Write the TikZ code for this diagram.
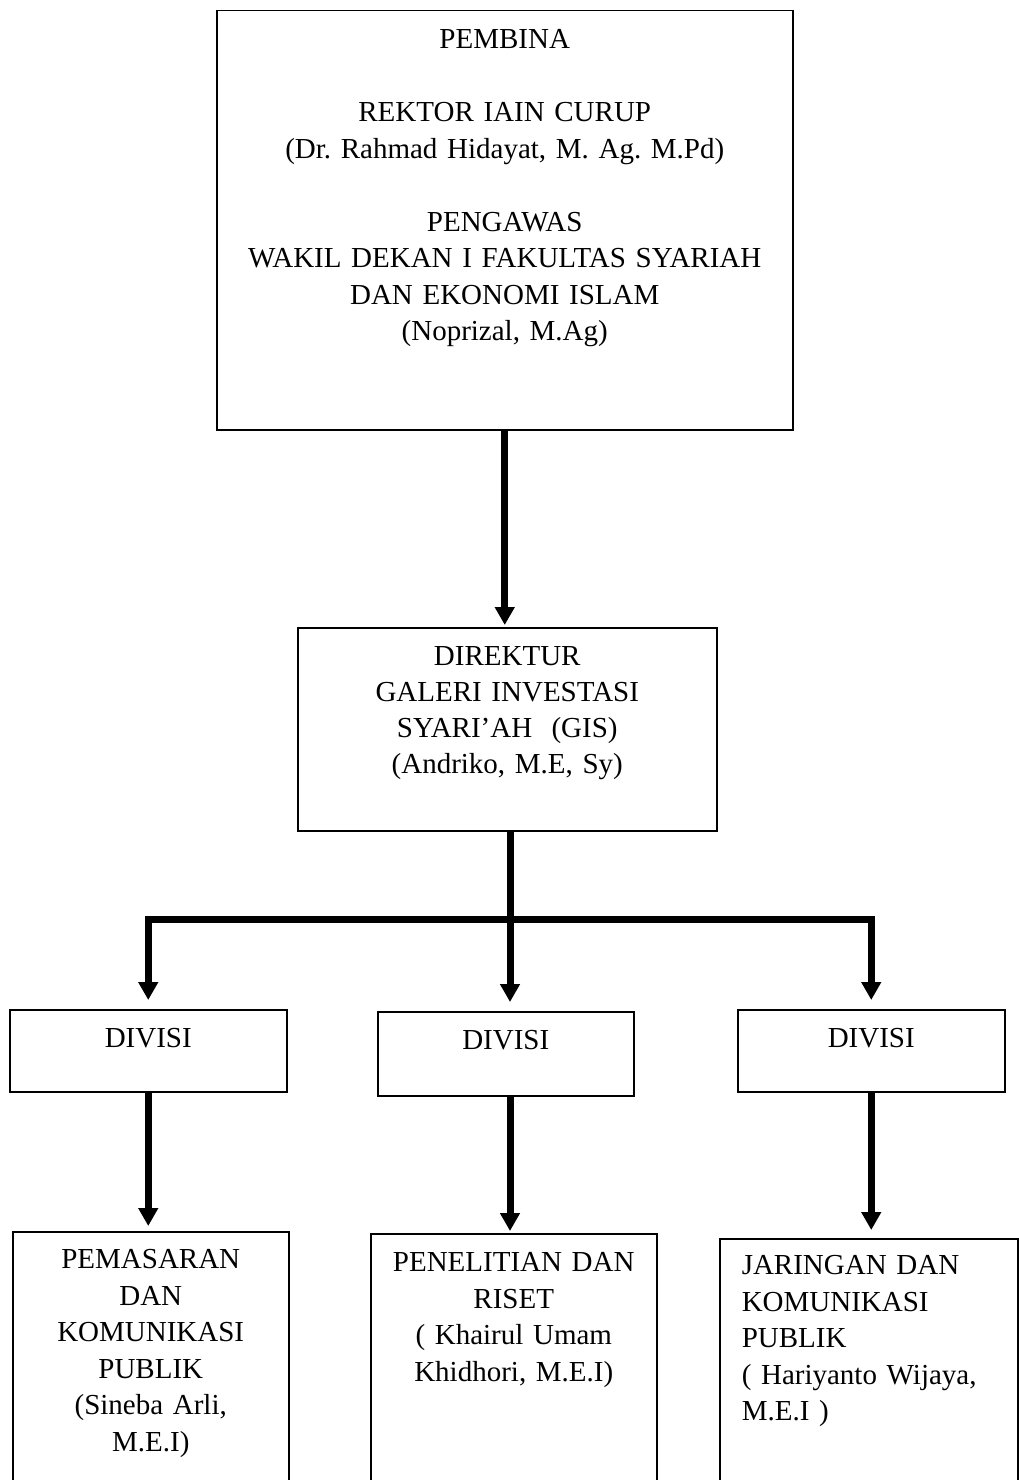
\documentclass[tikz,border=0pt]{standalone}
\usepackage{fontspec}
\setmainfont{Liberation Serif}
\usepackage{tikz}
\usetikzlibrary{arrows.meta}
\frenchspacing

\begin{document}
\begin{tikzpicture}[
  x=1pt, y=-1pt,
  box/.style={draw, line width=1.5pt, anchor=north west, inner xsep=0pt, inner ysep=0pt, align=center, font=\fontsize{29}{36.5}\selectfont},
  leftbox/.style={box, align=left, inner xsep=22pt},
  arrow/.style={-{Triangle[length=18pt,width=19pt]}, line width=7pt, shorten >=4pt}
]
\useasboundingbox (0,0) rectangle (1019,1480);
\clip (0,0) rectangle (1019,1480);

\node[box, text width=576pt, text height=38pt, text depth=381pt] (pembina) at (216,10)
  {PEMBINA\\[36.5pt]REKTOR IAIN CURUP\\(Dr. Rahmad Hidayat, M. Ag. M.Pd)\\[36.5pt]PENGAWAS\\WAKIL DEKAN I FAKULTAS SYARIAH\\DAN EKONOMI ISLAM\\(Noprizal, M.Ag)};

\node[box, text width=419pt, text height=38pt, text depth=165pt, font=\fontsize{29}{36}\selectfont] (direktur) at (297,627)
  {DIREKTUR\\GALERI INVESTASI\\SYARI’AH~ (GIS)\\(Andriko, M.E, Sy)};

\node[box, text width=277pt, text height=38pt, text depth=44pt] (divisi1) at (9,1009) {DIVISI};
\node[box, text width=256pt, text height=38pt, text depth=46pt] (divisi2) at (377,1011) {DIVISI};
\node[box, text width=267pt, text height=38pt, text depth=44pt] (divisi3) at (737,1009) {DIVISI};

\node[box, text width=276pt, text height=37pt, text depth=240pt] (pemasaran) at (12,1231)
  {PEMASARAN\\DAN\\KOMUNIKASI\\PUBLIK\\(Sineba Arli,\\M.E.I)};
\node[box, text width=286pt, text height=38pt, text depth=240pt] (penelitian) at (370,1233)
  {PENELITIAN DAN\\RISET\\( Khairul Umam\\Khidhori, M.E.I)};
\node[leftbox, text width=254pt, text height=36pt, text depth=240pt] (jaringan) at (719,1238)
  {JARINGAN DAN\\KOMUNIKASI\\PUBLIK\\( Hariyanto Wijaya,\\M.E.I )};

\coordinate (jalur) at (510,919);

\draw[arrow, shorten >=2pt] (pembina.south) -- (pembina.south |- direktur.north);
\draw[arrow, shorten >=9pt] (direktur.south -| jalur) -- (jalur |- divisi2.north);
\draw[arrow, shorten >=9pt] (jalur) -| (divisi1.north);
\draw[arrow, shorten >=9pt] (jalur) -| (divisi3.north);
\draw[arrow, shorten >=5pt] (divisi1.south) -- (divisi1.south |- pemasaran.north);
\draw[arrow, shorten >=2pt] (divisi2.south -| jalur) -- (jalur |- penelitian.north);
\draw[arrow, shorten >=8pt] (divisi3.south) -- (divisi3.south |- jaringan.north);
\end{tikzpicture}
\end{document}
